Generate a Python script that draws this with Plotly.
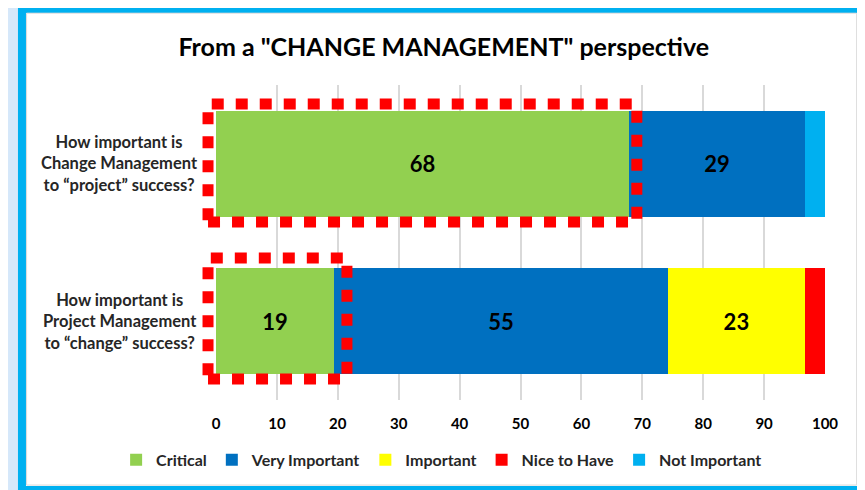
import plotly.graph_objects as go

# --- data ---
questions = [
    "How important is<br>Change Management<br>to “project” success?",
    "How important is<br>Project Management<br>to “change” success?",
]
critical = [67.8, 19.4]
very_important = [28.9, 54.8]
important = [0, 22.5]
nice_to_have = [0, 3.3]
not_important = [3.3, 0]

critical_lbl = ["68", "19"]
very_important_lbl = ["29", "55"]
important_lbl = ["", "23"]

series = [
    ("Critical", critical, critical_lbl, "#92d050"),
    ("Very Important", very_important, very_important_lbl, "#0070c0"),
    ("Important", important, important_lbl, "#ffff00"),
    ("Nice to Have", nice_to_have, ["", ""], "#ff0000"),
    ("Not Important", not_important, ["", ""], "#00b0f0"),
]

FONT = "Lato"

fig = go.Figure()
for name, vals, lbls, color in series:
    fig.add_trace(go.Bar(
        y=questions, x=vals, name=name, orientation="h",
        marker=dict(color=color, line=dict(width=0)),
        text=lbls, textposition="inside", insidetextanchor="middle",
        textangle=0, constraintext="none",
        textfont=dict(family=FONT, size=22, color="black", weight="bold"),
    ))

# category labels are centred in the reference, so draw them as annotations
for q in questions:
    fig.add_annotation(text=q, xref="paper", x=-0.158, xanchor="center",
                       yref="y", y=q, yanchor="middle", align="center",
                       showarrow=False,
                       font=dict(family=FONT, size=16.5, color="#262626", weight="bold"))

# frame around the chart
fig.add_shape(type="rect", xref="paper", yref="paper",
              x0=-0.3186, x1=1.065, y0=-0.2857, y1=1.241,
              line=dict(color="#00b0f0", width=8), fillcolor="white", layer="below")
fig.add_shape(type="rect", xref="paper", yref="paper",
              x0=-0.311, x1=1.052, y0=-0.27, y1=1.228,
              line=dict(color="#d9d9d9", width=1), fillcolor="rgba(0,0,0,0)", layer="below")

# red dotted highlight boxes (paper refs so they are not clipped at the axis)
fig.add_shape(type="rect", xref="paper", yref="paper",
              x0=-0.0131, x1=0.691, y0=0.565, y1=0.94,
              line=dict(color="#ff0000", width=11, dash="12px,12px"))
fig.add_shape(type="rect", xref="paper", yref="paper",
              x0=-0.0131, x1=0.215, y0=0.067, y1=0.451,
              line=dict(color="#ff0000", width=11, dash="12px,12px"))

# page body adds an 8px offset, so the margins are shifted to compensate
fig.update_layout(
    width=865, height=490,
    barmode="stack", bargap=0.33,
    margin=dict(l=208, r=48, t=77, b=98),
    paper_bgcolor="#d6e8fa", plot_bgcolor="rgba(0,0,0,0)",
    font=dict(family=FONT, color="#262626"),
    title=dict(text='From a "CHANGE MANAGEMENT" perspective',
               font=dict(family=FONT, size=25, color="black", weight="bold"),
               x=0.374, xref="paper", xanchor="center",
               y=0.92, yref="container", yanchor="middle"),
    legend=dict(orientation="h", x=-0.164, xanchor="left", y=-0.19, yanchor="middle",
                font=dict(family=FONT, size=16, color="#262626", weight="bold"),
                bgcolor="rgba(0,0,0,0)", traceorder="normal", itemwidth=30),
    showlegend=True,
)
fig.update_xaxes(range=[0, 100], dtick=10, showgrid=True, gridcolor="#d9d9d9", gridwidth=1.5,
                 zeroline=False, showline=False,
                 ticks="outside", ticklen=10, tickcolor="rgba(0,0,0,0)",
                 tickfont=dict(family=FONT, size=15, color="black", weight="bold"))
fig.update_yaxes(autorange="reversed", showgrid=False, zeroline=False,
                 showticklabels=False)

fig.write_html("out.html")
